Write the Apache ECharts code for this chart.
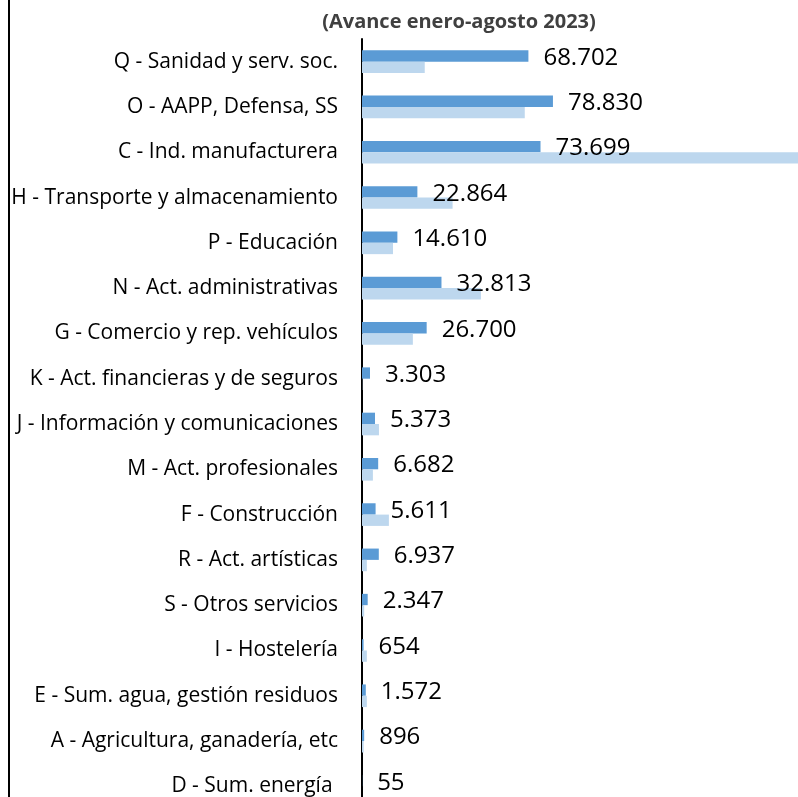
<!DOCTYPE html>
<html>
<head>
<meta charset="utf-8">
<script src="https://cdn.jsdelivr.net/npm/echarts@6/dist/echarts.min.js"></script>
<style>
  html, body { margin: 0; padding: 0; background: #fff; }
  #chart { width: 798px; height: 797px; }
</style>
</head>
<body>
<div id="chart"></div>
<script>
// categorias (de arriba a abajo)
const categories = [
  "Q - Sanidad y serv. soc.",
  "O - AAPP, Defensa, SS",
  "C - Ind. manufacturera",
  "H - Transporte y almacenamiento",
  "P - Educación",
  "N - Act. administrativas",
  "G - Comercio y rep. vehículos",
  "K - Act. financieras y de seguros",
  "J - Información y comunicaciones",
  "M - Act. profesionales",
  "F - Construcción",
  "R - Act. artísticas",
  "S - Otros servicios",
  "I - Hostelería",
  "E - Sum. agua, gestión residuos",
  "A - Agricultura, ganadería, etc",
  "D - Sum. energía "
];
// serie principal (con etiqueta)
const valuesMain = [68702, 78830, 73699, 22864, 14610, 32813, 26700, 3303, 5373, 6682, 5611, 6937, 2347, 654, 1572, 896, 55];
// serie secundaria (azul claro)
const valuesSecond = [25900, 67200, 186000, 37400, 12800, 49100, 21000, 100, 7000, 4500, 11100, 2000, 900, 2000, 2000, 700, 0];

const fmt = v => v.toString().replace(/\B(?=(\d{3})+(?!\d))/g, ".");

const chart = echarts.init(document.getElementById("chart"));
const option = {
  backgroundColor: "#fff",
  animation: false,
  title: {
    text: "(Avance enero-agosto 2023)",
    left: 454,
    top: 7,
    textAlign: "center",
    textStyle: {
      fontFamily: "Open Sans",
      fontWeight: "bold",
      fontSize: 20,
      color: "#404040"
    }
  },
  grid: {
    left: 362,
    right: 0,
    top: 39,
    height: 770,
    outerBoundsMode: "none"
  },
  xAxis: {
    type: "value",
    min: 0,
    max: 180000,
    show: false
  },
  yAxis: {
    type: "category",
    inverse: true,
    data: categories,
    axisLine: { show: true, lineStyle: { color: "#000", width: 2 } },
    axisTick: { show: false },
    axisLabel: {
      margin: 24,
      fontFamily: "Open Sans",
      fontSize: 21,
      color: "#000"
    }
  },
  series: [
    {
      name: "main",
      type: "bar",
      data: valuesMain,
      barGap: "0%",
      barCategoryGap: "50%",
      itemStyle: { color: "#5B9BD5" },
      label: {
        show: true,
        position: "right",
        distance: 15,
        offset: [0, 2],
        fontFamily: "Open Sans",
        fontSize: 24,
        color: "#000",
        formatter: p => fmt(p.value)
      }
    },
    {
      name: "second",
      type: "bar",
      data: valuesSecond,
      itemStyle: { color: "#BDD7EE" }
    }
  ],
  graphic: [
    {
      type: "rect",
      shape: { x: 8, y: 0, width: 2, height: 797 },
      style: { fill: "#000" }
    }
  ]
};
chart.setOption(option);
</script>
</body>
</html>
